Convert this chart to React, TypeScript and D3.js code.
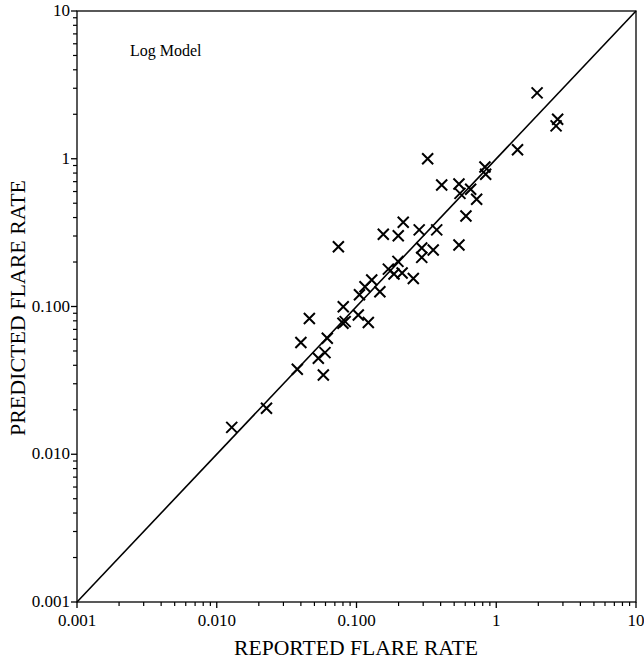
import React from "react";
import * as d3 from "d3";

const reported = [1.96, 2.75, 2.68, 1.42, 0.83, 0.84, 0.323, 0.407, 0.541, 0.55, 0.656, 0.724, 0.607, 0.541, 0.375, 0.281, 0.354, 0.293, 0.293, 0.216, 0.199, 0.1555, 0.0742, 0.169, 0.198, 0.1855, 0.212, 0.255, 0.147, 0.1285, 0.115, 0.105, 0.1215, 0.103, 0.0804, 0.08, 0.083, 0.0618, 0.0595, 0.0533, 0.0579, 0.046, 0.04, 0.0377, 0.0227, 0.0128];
const predicted = [2.79, 1.85, 1.67, 1.15, 0.88, 0.785, 1.0, 0.664, 0.675, 0.583, 0.621, 0.532, 0.41, 0.261, 0.33, 0.33, 0.241, 0.249, 0.215, 0.372, 0.301, 0.308, 0.254, 0.179, 0.202, 0.166, 0.1685, 0.1547, 0.126, 0.151, 0.136, 0.12, 0.078, 0.0876, 0.0997, 0.077, 0.079, 0.061, 0.0487, 0.0446, 0.0344, 0.083, 0.057, 0.0376, 0.0205, 0.0152];
const majorTicks = [0.001, 0.01, 0.1, 1, 10];
const xTickLabels = ["0.001", "0.010", "0.100", "1", "10"];
const yTickLabels = ["0.001", "0.010", "0.100", "1", "10"];
const lineEnds = [0.001, 10];

export default function App() {
  const left = 77, right = 636, top = 11, bottom = 602;
  const x = d3.scaleLog().domain([0.001, 10]).range([left, right]);
  const y = d3.scaleLog().domain([0.001, 10]).range([bottom, top]);
  const minor: number[] = [];
  for (let d = 0.001; d < 10; d *= 10) {
    for (let k = 2; k <= 9; k++) minor.push(+(d * k).toPrecision(3));
  }
  const font = "'Liberation Serif', 'Times New Roman', serif";
  const s = 5.5;
  const line = d3.line<number>().x((v) => x(v)).y((v) => y(v));
  return (
    <svg width={644} height={661} style={{ position: "absolute", left: 0, top: 0, background: "#fff" }}>
      <rect x={left} y={top} width={right - left} height={bottom - top} fill="none" stroke="#000" strokeWidth={1.3} />
      {minor.map((v, i) => (
        <g key={"m" + i} stroke="#000" strokeWidth={1.2}>
          <line x1={x(v)} x2={x(v)} y1={bottom} y2={bottom + 4} />
          <line x1={left} x2={left - 4} y1={y(v)} y2={y(v)} />
        </g>
      ))}
      {majorTicks.map((v, i) => (
        <g key={"M" + i}>
          <line x1={x(v)} x2={x(v)} y1={bottom} y2={bottom + 6} stroke="#000" strokeWidth={1.3} />
          <line x1={left} x2={left - 6} y1={y(v)} y2={y(v)} stroke="#000" strokeWidth={1.3} />
          <text x={x(v)} y={bottom + 24} textAnchor="middle" fontFamily={font} fontSize={17}>{xTickLabels[i]}</text>
          <text x={left - 7} y={y(v) + 5} textAnchor="end" fontFamily={font} fontSize={17}>{yTickLabels[i]}</text>
        </g>
      ))}
      <path d={line(lineEnds) || ""} stroke="#000" strokeWidth={1.6} fill="none" />
      {reported.map((r, i) => {
        const cx = x(r), cy = y(predicted[i]);
        return (
          <path key={"p" + i} d={`M${cx - s},${cy - s}L${cx + s},${cy + s}M${cx - s},${cy + s}L${cx + s},${cy - s}`} stroke="#000" strokeWidth={2} />
        );
      })}
      <text x={130} y={56} fontFamily={font} fontSize={16}>Log Model</text>
      <text x={356} y={655} textAnchor="middle" fontFamily={font} fontSize={20} textLength={244} lengthAdjust="spacingAndGlyphs">REPORTED FLARE RATE</text>
      <text transform={`translate(25,308) rotate(-90)`} textAnchor="middle" fontFamily={font} fontSize={20} textLength={256} lengthAdjust="spacingAndGlyphs">PREDICTED FLARE RATE</text>
    </svg>
  );
}
